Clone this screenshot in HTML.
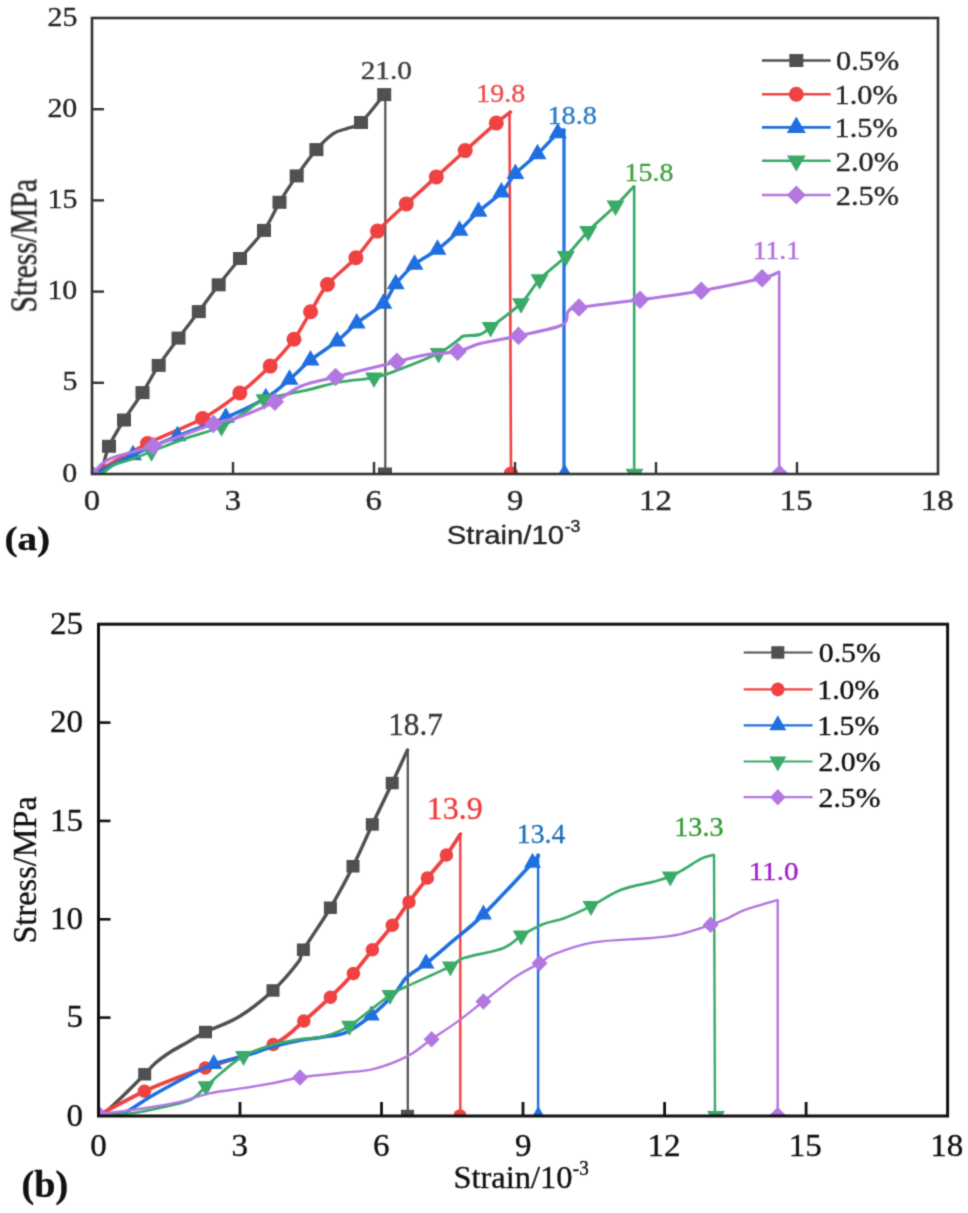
<!DOCTYPE html><html><head><meta charset="utf-8"><style>html,body{margin:0;padding:0;background:#fff;width:968px;height:1213px;overflow:hidden;}svg{display:block;}</style></head><body>
<svg width="968" height="1213" viewBox="0 0 968 1213">
<defs><filter id="soft" x="0" y="0" width="1" height="1" color-interpolation-filters="sRGB"><feConvolveMatrix order="3" kernelMatrix="0.02768 0.11101 0.02768 0.11101 0.44521 0.11101 0.02768 0.11101 0.02768" preserveAlpha="true"/></filter></defs>
<g filter="url(#soft)">
<rect width="968" height="1213" fill="#fff"/>
<defs><clipPath id="ca"><rect x="92" y="18" width="846" height="456"/></clipPath></defs>
<g clip-path="url(#ca)">
<path d="M100.0,474.0 C100.7,472.0 102.5,466.6 104.0,462.0 C105.5,457.4 105.7,453.3 109.0,446.3 C112.3,439.3 118.4,428.9 124.0,420.0 C129.6,411.1 136.7,401.7 142.5,392.6 C148.3,383.5 152.7,374.5 158.7,365.4 C164.7,356.3 171.8,347.1 178.5,338.1 C185.2,329.1 192.1,320.5 198.8,311.6 C205.5,302.7 211.8,293.7 218.7,284.8 C225.6,275.9 232.4,267.6 240.0,258.5 C247.6,249.4 257.4,239.8 264.0,230.4 C270.6,221.0 274.1,211.4 279.5,202.3 C284.9,193.2 290.6,184.7 296.7,175.9 C302.8,167.1 310.3,156.6 316.4,149.6 C322.4,142.6 327.9,137.3 333.0,133.8 C338.1,130.3 342.3,130.4 347.0,128.5 C351.7,126.6 354.8,128.2 361.0,122.5 C367.2,116.8 380.3,99.2 384.2,94.6" fill="none" stroke="#505050" stroke-width="3.3" stroke-linejoin="round" stroke-linecap="round" />
<polyline points="385.3,94.6 385.3,474.0" fill="none" stroke="#505050" stroke-width="2.2" stroke-linejoin="round" stroke-linecap="round" />
<rect x="102.0" y="439.8" width="14" height="13" fill="#505050"/>
<rect x="117.0" y="413.5" width="14" height="13" fill="#505050"/>
<rect x="135.5" y="386.1" width="14" height="13" fill="#505050"/>
<rect x="151.7" y="358.9" width="14" height="13" fill="#505050"/>
<rect x="171.5" y="331.6" width="14" height="13" fill="#505050"/>
<rect x="191.8" y="305.1" width="14" height="13" fill="#505050"/>
<rect x="211.7" y="278.3" width="14" height="13" fill="#505050"/>
<rect x="233.0" y="252.0" width="14" height="13" fill="#505050"/>
<rect x="257.0" y="223.9" width="14" height="13" fill="#505050"/>
<rect x="272.5" y="195.8" width="14" height="13" fill="#505050"/>
<rect x="289.7" y="169.4" width="14" height="13" fill="#505050"/>
<rect x="309.4" y="143.1" width="14" height="13" fill="#505050"/>
<rect x="354.0" y="116.0" width="14" height="13" fill="#505050"/>
<rect x="377.2" y="88.1" width="14" height="13" fill="#505050"/>
<rect x="378.0" y="467.5" width="14" height="13" fill="#505050"/>
<path d="M92.0,474.0 C101.2,468.9 129.1,452.8 147.5,443.5 C165.9,434.2 187.2,426.9 202.6,418.5 C218.0,410.1 228.5,401.7 239.8,393.0 C251.1,384.3 261.2,375.1 270.2,366.1 C279.2,357.1 287.3,348.2 294.0,339.2 C300.7,330.1 305.0,320.9 310.6,311.8 C316.2,302.7 319.9,293.5 327.5,284.5 C335.1,275.5 347.6,266.7 355.9,257.8 C364.2,248.9 369.1,240.1 377.5,231.1 C385.9,222.1 396.5,212.9 406.3,203.9 C416.1,194.9 426.5,185.8 436.3,176.9 C446.1,168.0 455.2,159.6 465.2,150.6 C475.2,141.6 488.8,129.5 496.3,123.1 C503.9,116.7 508.1,113.8 510.5,112.0" fill="none" stroke="#f04242" stroke-width="3.5" stroke-linejoin="round" stroke-linecap="round" />
<polyline points="509.5,112.0 511.0,474.0" fill="none" stroke="#f04242" stroke-width="2.6" stroke-linejoin="round" stroke-linecap="round" />
<ellipse cx="147.5" cy="443.5" rx="7.5" ry="7.5" fill="#f04242"/>
<ellipse cx="202.6" cy="418.5" rx="7.5" ry="7.5" fill="#f04242"/>
<ellipse cx="239.8" cy="393.0" rx="7.5" ry="7.5" fill="#f04242"/>
<ellipse cx="270.2" cy="366.1" rx="7.5" ry="7.5" fill="#f04242"/>
<ellipse cx="294.0" cy="339.2" rx="7.5" ry="7.5" fill="#f04242"/>
<ellipse cx="310.6" cy="311.8" rx="7.5" ry="7.5" fill="#f04242"/>
<ellipse cx="327.5" cy="284.5" rx="7.5" ry="7.5" fill="#f04242"/>
<ellipse cx="355.9" cy="257.8" rx="7.5" ry="7.5" fill="#f04242"/>
<ellipse cx="377.5" cy="231.1" rx="7.5" ry="7.5" fill="#f04242"/>
<ellipse cx="406.3" cy="203.9" rx="7.5" ry="7.5" fill="#f04242"/>
<ellipse cx="436.3" cy="176.9" rx="7.5" ry="7.5" fill="#f04242"/>
<ellipse cx="465.2" cy="150.6" rx="7.5" ry="7.5" fill="#f04242"/>
<ellipse cx="496.3" cy="123.1" rx="7.5" ry="7.5" fill="#f04242"/>
<ellipse cx="511.0" cy="474.0" rx="7.5" ry="7.5" fill="#f04242"/>
<path d="M92.0,474.0 C94.1,473.1 97.7,472.0 104.5,468.8 C111.3,465.6 120.8,460.5 133.0,455.0 C145.2,449.5 161.9,442.2 177.4,436.0 C192.9,429.8 211.1,423.8 225.8,417.5 C240.5,411.2 255.2,404.3 265.8,398.0 C276.4,391.7 282.1,385.8 289.5,379.5 C296.9,373.2 302.6,366.6 310.5,360.2 C318.4,353.8 329.4,347.4 337.1,341.2 C344.8,335.0 349.0,329.5 356.7,323.2 C364.4,316.9 376.9,310.1 383.4,303.6 C389.9,297.1 390.5,290.6 395.7,284.1 C400.9,277.6 407.5,270.3 414.5,264.5 C421.5,258.7 430.0,255.2 437.5,249.5 C445.0,243.8 452.7,236.8 459.5,230.5 C466.3,224.2 471.5,217.8 478.5,211.5 C485.5,205.2 495.2,198.7 501.4,192.4 C507.5,186.1 509.4,180.2 515.4,173.8 C521.4,167.4 530.4,160.8 537.5,154.0 C544.6,147.2 553.4,137.0 557.8,133.0 C562.2,129.0 563.0,130.5 564.0,130.0" fill="none" stroke="#1f6fe0" stroke-width="3.5" stroke-linejoin="round" stroke-linecap="round" />
<polyline points="564.0,130.0 564.0,474.0" fill="none" stroke="#1f6fe0" stroke-width="3.2" stroke-linejoin="round" stroke-linecap="round" />
<polygon points="133.0,444.7 142.0,460.2 124.0,460.2" fill="#1f6fe0"/>
<polygon points="177.4,425.7 186.4,441.2 168.4,441.2" fill="#1f6fe0"/>
<polygon points="225.8,407.2 234.8,422.7 216.8,422.7" fill="#1f6fe0"/>
<polygon points="265.8,387.7 274.8,403.2 256.8,403.2" fill="#1f6fe0"/>
<polygon points="289.5,369.2 298.5,384.7 280.5,384.7" fill="#1f6fe0"/>
<polygon points="310.5,349.9 319.5,365.4 301.5,365.4" fill="#1f6fe0"/>
<polygon points="337.1,330.9 346.1,346.4 328.1,346.4" fill="#1f6fe0"/>
<polygon points="356.7,312.9 365.7,328.4 347.7,328.4" fill="#1f6fe0"/>
<polygon points="383.4,293.3 392.4,308.8 374.4,308.8" fill="#1f6fe0"/>
<polygon points="395.7,273.8 404.7,289.3 386.7,289.3" fill="#1f6fe0"/>
<polygon points="414.5,254.2 423.5,269.7 405.5,269.7" fill="#1f6fe0"/>
<polygon points="437.5,239.2 446.5,254.7 428.5,254.7" fill="#1f6fe0"/>
<polygon points="459.5,220.2 468.5,235.7 450.5,235.7" fill="#1f6fe0"/>
<polygon points="478.5,201.2 487.5,216.7 469.5,216.7" fill="#1f6fe0"/>
<polygon points="501.4,182.1 510.4,197.6 492.4,197.6" fill="#1f6fe0"/>
<polygon points="515.4,163.5 524.4,179.0 506.4,179.0" fill="#1f6fe0"/>
<polygon points="537.5,143.7 546.5,159.2 528.5,159.2" fill="#1f6fe0"/>
<polygon points="557.8,122.7 566.8,138.2 548.8,138.2" fill="#1f6fe0"/>
<polygon points="564.5,463.7 573.5,479.2 555.5,479.2" fill="#1f6fe0"/>
<path d="M92.0,474.0 C93.6,473.9 97.9,475.0 101.5,473.5 C105.1,472.0 109.2,467.2 113.8,465.0 C118.4,462.8 123.0,462.2 129.3,460.0 C135.6,457.8 145.5,453.8 151.5,451.5 C157.5,449.2 159.4,448.3 165.5,446.0 C171.6,443.7 178.7,440.9 188.0,437.7 C197.3,434.4 212.0,430.8 221.5,426.5 C231.0,422.2 237.8,416.5 245.0,412.0 C252.2,407.5 254.6,403.1 264.5,399.5 C274.4,395.9 292.1,393.6 304.5,390.7 C316.9,387.8 327.6,384.3 339.2,382.1 C350.8,379.9 364.1,379.7 374.0,377.6 C383.9,375.5 387.9,373.8 398.7,369.7 C409.5,365.6 428.7,358.2 438.6,353.3 C448.5,348.4 454.0,342.9 458.2,340.0 C462.4,337.1 460.1,336.9 463.7,336.0 C467.3,335.1 475.5,335.9 480.0,334.5 C484.5,333.1 483.8,332.5 490.6,327.3 C497.4,322.1 512.8,311.4 521.0,303.4 C529.2,295.4 532.1,287.4 539.6,279.5 C547.1,271.6 557.8,264.4 565.9,256.3 C574.0,248.2 579.9,239.6 588.2,231.2 C596.5,222.8 607.9,213.2 615.5,205.8 C623.1,198.4 630.8,189.7 633.8,186.5" fill="none" stroke="#3aaa68" stroke-width="2.9" stroke-linejoin="round" stroke-linecap="round" />
<polyline points="634.2,186.5 634.2,474.0" fill="none" stroke="#3aaa68" stroke-width="2.6" stroke-linejoin="round" stroke-linecap="round" />
<polygon points="151.5,461.8 160.5,446.3 142.5,446.3" fill="#3aaa68"/>
<polygon points="221.5,436.8 230.5,421.3 212.5,421.3" fill="#3aaa68"/>
<polygon points="264.5,409.8 273.5,394.3 255.5,394.3" fill="#3aaa68"/>
<polygon points="374.0,387.9 383.0,372.4 365.0,372.4" fill="#3aaa68"/>
<polygon points="438.6,363.6 447.6,348.1 429.6,348.1" fill="#3aaa68"/>
<polygon points="490.6,337.6 499.6,322.1 481.6,322.1" fill="#3aaa68"/>
<polygon points="521.0,313.7 530.0,298.2 512.0,298.2" fill="#3aaa68"/>
<polygon points="539.6,289.8 548.6,274.3 530.6,274.3" fill="#3aaa68"/>
<polygon points="565.9,266.6 574.9,251.1 556.9,251.1" fill="#3aaa68"/>
<polygon points="588.2,241.5 597.2,226.0 579.2,226.0" fill="#3aaa68"/>
<polygon points="615.5,216.1 624.5,200.6 606.5,200.6" fill="#3aaa68"/>
<polygon points="634.5,484.3 643.5,468.8 625.5,468.8" fill="#3aaa68"/>
<path d="M92.0,474.0 C92.5,473.4 92.2,473.1 95.3,470.5 C98.4,467.9 101.1,462.6 110.7,458.5 C120.3,454.4 135.9,451.8 153.0,446.0 C170.1,440.2 198.9,428.9 213.4,424.0 C227.9,419.1 229.8,420.5 240.0,416.8 C250.2,413.1 264.5,407.0 274.8,401.8 C285.1,396.6 291.9,389.9 302.0,385.8 C312.1,381.7 325.3,379.7 335.6,377.0 C345.9,374.3 353.8,372.2 364.0,369.7 C374.2,367.2 386.6,364.3 396.9,361.8 C407.2,359.3 415.9,356.5 426.0,354.8 C436.1,353.1 448.6,353.5 457.6,351.6 C466.6,349.7 469.9,346.2 480.0,343.6 C490.1,341.0 504.8,339.0 518.5,335.9 C532.2,332.8 553.8,329.0 562.0,325.0 C570.2,321.0 565.2,314.9 568.0,312.0 C570.8,309.1 567.0,309.5 579.0,307.5 C591.0,305.5 619.6,302.6 640.0,299.8 C660.4,297.0 680.9,294.3 701.3,290.7 C721.6,287.1 749.2,281.4 762.1,278.3 C775.0,275.2 775.9,273.1 778.7,272.1" fill="none" stroke="#b277e0" stroke-width="3.1" stroke-linejoin="round" stroke-linecap="round" />
<polyline points="779.2,272.1 779.2,474.0" fill="none" stroke="#b277e0" stroke-width="2.6" stroke-linejoin="round" stroke-linecap="round" />
<polygon points="92.0,464.8 101.2,474.0 92.0,483.2 82.8,474.0" fill="#b277e0"/>
<polygon points="153.0,436.8 162.2,446.0 153.0,455.2 143.8,446.0" fill="#b277e0"/>
<polygon points="213.4,414.8 222.7,424.0 213.4,433.2 204.2,424.0" fill="#b277e0"/>
<polygon points="274.8,392.6 284.1,401.8 274.8,411.1 265.6,401.8" fill="#b277e0"/>
<polygon points="335.6,367.8 344.9,377.0 335.6,386.2 326.4,377.0" fill="#b277e0"/>
<polygon points="396.9,352.6 406.1,361.8 396.9,371.1 387.6,361.8" fill="#b277e0"/>
<polygon points="457.6,342.4 466.9,351.6 457.6,360.9 448.4,351.6" fill="#b277e0"/>
<polygon points="518.5,326.6 527.8,335.9 518.5,345.1 509.2,335.9" fill="#b277e0"/>
<polygon points="579.0,298.2 588.2,307.5 579.0,316.8 569.8,307.5" fill="#b277e0"/>
<polygon points="640.0,290.6 649.2,299.8 640.0,309.1 630.8,299.8" fill="#b277e0"/>
<polygon points="701.3,281.4 710.5,290.7 701.3,299.9 692.0,290.7" fill="#b277e0"/>
<polygon points="762.1,269.1 771.4,278.3 762.1,287.6 752.9,278.3" fill="#b277e0"/>
<polygon points="779.5,464.8 788.8,474.0 779.5,483.2 770.2,474.0" fill="#b277e0"/>
</g>
<rect x="92" y="18" width="846" height="456" fill="none" stroke="#333" stroke-width="2.6"/>
<line x1="92" y1="382.8" x2="104" y2="382.8" stroke="#333" stroke-width="2.4"/>
<line x1="92" y1="291.6" x2="104" y2="291.6" stroke="#333" stroke-width="2.4"/>
<line x1="92" y1="200.4" x2="104" y2="200.4" stroke="#333" stroke-width="2.4"/>
<line x1="92" y1="109.2" x2="104" y2="109.2" stroke="#333" stroke-width="2.4"/>
<line x1="233.0" y1="474" x2="233.0" y2="462" stroke="#333" stroke-width="2.4"/>
<line x1="374.0" y1="474" x2="374.0" y2="462" stroke="#333" stroke-width="2.4"/>
<line x1="515.0" y1="474" x2="515.0" y2="462" stroke="#333" stroke-width="2.4"/>
<line x1="656.0" y1="474" x2="656.0" y2="462" stroke="#333" stroke-width="2.4"/>
<line x1="797.0" y1="474" x2="797.0" y2="462" stroke="#333" stroke-width="2.4"/>
<text transform="translate(62.35,481.68) scale(1.1300,1)" font-family='"Liberation Serif", serif' font-weight="normal" font-size="26.50" fill="#262626" stroke="#262626" stroke-width="0.35">0</text>
<text transform="translate(62.43,390.35) scale(1.1300,1)" font-family='"Liberation Serif", serif' font-weight="normal" font-size="26.50" fill="#262626" stroke="#262626" stroke-width="0.35">5</text>
<text transform="translate(47.38,299.28) scale(1.1300,1)" font-family='"Liberation Serif", serif' font-weight="normal" font-size="26.50" fill="#262626" stroke="#262626" stroke-width="0.35">10</text>
<text transform="translate(47.45,208.01) scale(1.1300,1)" font-family='"Liberation Serif", serif' font-weight="normal" font-size="26.50" fill="#262626" stroke="#262626" stroke-width="0.35">15</text>
<text transform="translate(47.38,116.88) scale(1.1300,1)" font-family='"Liberation Serif", serif' font-weight="normal" font-size="26.50" fill="#262626" stroke="#262626" stroke-width="0.35">20</text>
<text transform="translate(47.45,25.65) scale(1.1300,1)" font-family='"Liberation Serif", serif' font-weight="normal" font-size="26.50" fill="#262626" stroke="#262626" stroke-width="0.35">25</text>
<text transform="translate(83.80,509.90) scale(1.1200,1)" font-family='"Liberation Serif", serif' font-weight="normal" font-size="29.30" fill="#262626" stroke="#262626" stroke-width="0.35">0</text>
<text transform="translate(224.67,509.86) scale(1.1200,1)" font-family='"Liberation Serif", serif' font-weight="normal" font-size="29.30" fill="#262626" stroke="#262626" stroke-width="0.35">3</text>
<text transform="translate(365.59,509.86) scale(1.1200,1)" font-family='"Liberation Serif", serif' font-weight="normal" font-size="29.30" fill="#262626" stroke="#262626" stroke-width="0.35">6</text>
<text transform="translate(506.92,509.86) scale(1.1200,1)" font-family='"Liberation Serif", serif' font-weight="normal" font-size="29.30" fill="#262626" stroke="#262626" stroke-width="0.35">9</text>
<text transform="translate(639.06,510.01) scale(1.1200,1)" font-family='"Liberation Serif", serif' font-weight="normal" font-size="29.30" fill="#262626" stroke="#262626" stroke-width="0.35">12</text>
<text transform="translate(779.81,509.82) scale(1.1200,1)" font-family='"Liberation Serif", serif' font-weight="normal" font-size="29.30" fill="#262626" stroke="#262626" stroke-width="0.35">15</text>
<text transform="translate(920.77,509.90) scale(1.1200,1)" font-family='"Liberation Serif", serif' font-weight="normal" font-size="29.30" fill="#262626" stroke="#262626" stroke-width="0.35">18</text>
<text transform="translate(36.63,312.48) rotate(-90) scale(1,1.2771)" font-family='"Liberation Serif", serif' font-size="29.34" fill="#262626" stroke="#262626" stroke-width="0.35">Stress/MPa</text>
<text transform="translate(446.78,544.05) scale(1.1583,1)" font-family='"Liberation Sans", sans-serif' font-weight="normal" font-size="25.31" fill="#262626" stroke="#262626" stroke-width="0.35" >Strain/10</text>
<text transform="translate(564.70,532.43) scale(1.0379,1)" font-family='"Liberation Sans", sans-serif' font-weight="normal" font-size="17.10" fill="#262626" stroke="#262626" stroke-width="0.35" >-3</text>
<text transform="translate(4.43,550.48) scale(1.1875,1)" font-family='"Liberation Serif", serif' font-weight="bold" font-size="33.06" fill="#111" stroke="#111" stroke-width="0.35" >(a)</text>
<text transform="translate(360.68,78.91) scale(1.1330,1)" font-family='"Liberation Serif", serif' font-weight="normal" font-size="25.88" fill="#3f3f3f" stroke="#3f3f3f" stroke-width="0.35" >21.0</text>
<text transform="translate(476.35,102.13) scale(1.1401,1)" font-family='"Liberation Serif", serif' font-weight="normal" font-size="24.56" fill="#f04a4a" stroke="#f04a4a" stroke-width="0.35" >19.8</text>
<text transform="translate(547.42,123.92) scale(1.1348,1)" font-family='"Liberation Serif", serif' font-weight="normal" font-size="25.00" fill="#2a7ec8" stroke="#2a7ec8" stroke-width="0.35" >18.8</text>
<text transform="translate(624.55,181.11) scale(1.0818,1)" font-family='"Liberation Serif", serif' font-weight="normal" font-size="25.88" fill="#45a040" stroke="#45a040" stroke-width="0.35" >15.8</text>
<text transform="translate(752.67,258.63) scale(1.1345,1)" font-family='"Liberation Serif", serif' font-weight="normal" font-size="24.44" fill="#b070e0" stroke="#b070e0" stroke-width="0.35" >11.1</text>
<line x1="762" y1="60.5" x2="830.6" y2="60.5" stroke="#505050" stroke-width="2.6"/>
<rect x="789.3" y="54.0" width="14" height="13" fill="#505050"/>
<text transform="translate(836.06,70.37) scale(1.1100,1)" font-family='"Liberation Serif", serif' font-weight="normal" font-size="27.30" fill="#262626" stroke="#262626" stroke-width="0.35">0.5%</text>
<line x1="762" y1="94.3" x2="830.6" y2="94.3" stroke="#f04242" stroke-width="2.6"/>
<ellipse cx="796.3" cy="94.3" rx="7.5" ry="7.5" fill="#f04242"/>
<text transform="translate(834.55,104.17) scale(1.1100,1)" font-family='"Liberation Serif", serif' font-weight="normal" font-size="27.30" fill="#262626" stroke="#262626" stroke-width="0.35">1.0%</text>
<line x1="762" y1="127.4" x2="830.6" y2="127.4" stroke="#1f6fe0" stroke-width="2.6"/>
<polygon points="796.3,116.4 805.8,132.9 786.8,132.9" fill="#1f6fe0"/>
<text transform="translate(834.55,137.27) scale(1.1100,1)" font-family='"Liberation Serif", serif' font-weight="normal" font-size="27.30" fill="#262626" stroke="#262626" stroke-width="0.35">1.5%</text>
<line x1="762" y1="160.8" x2="830.6" y2="160.8" stroke="#3aaa68" stroke-width="2.6"/>
<polygon points="796.3,171.5 805.8,155.5 786.8,155.5" fill="#3aaa68"/>
<text transform="translate(835.84,170.67) scale(1.1100,1)" font-family='"Liberation Serif", serif' font-weight="normal" font-size="27.30" fill="#262626" stroke="#262626" stroke-width="0.35">2.0%</text>
<line x1="762" y1="195" x2="830.6" y2="195" stroke="#b277e0" stroke-width="2.6"/>
<polygon points="796.3,185.5 805.8,195.0 796.3,204.5 786.8,195.0" fill="#b277e0"/>
<text transform="translate(835.84,204.87) scale(1.1100,1)" font-family='"Liberation Serif", serif' font-weight="normal" font-size="27.30" fill="#262626" stroke="#262626" stroke-width="0.35">2.5%</text>
<defs><clipPath id="cb"><rect x="98.5" y="624.2" width="849.1" height="491.79999999999995"/></clipPath></defs>
<g clip-path="url(#cb)">
<path d="M101.5,1115.0 C102.3,1114.4 102.3,1115.3 106.4,1111.6 C110.5,1107.9 119.6,1099.2 126.0,1093.0 C132.4,1086.8 139.7,1079.4 144.7,1074.3 C149.7,1069.2 151.4,1066.4 156.0,1062.5 C160.6,1058.6 166.7,1054.4 172.0,1051.0 C177.3,1047.6 182.4,1045.2 188.0,1042.0 C193.6,1038.8 196.9,1036.3 205.5,1032.1 C214.1,1027.8 228.2,1023.4 239.4,1016.5 C250.7,1009.6 263.2,999.6 273.0,990.5 C282.8,981.4 293.2,968.8 298.3,962.0 C303.4,955.2 298.0,958.8 303.4,949.8 C308.8,940.8 322.1,921.7 330.4,907.8 C338.7,893.9 346.0,880.1 353.0,866.2 C360.0,852.3 365.8,838.4 372.3,824.5 C378.8,810.6 386.3,795.4 392.2,783.0 C398.1,770.6 404.9,755.5 407.5,750.0" fill="none" stroke="#505050" stroke-width="3.5" stroke-linejoin="round" stroke-linecap="round" />
<polyline points="407.8,750.0 407.8,1116.0" fill="none" stroke="#505050" stroke-width="2.2" stroke-linejoin="round" stroke-linecap="round" />
<rect x="138.2" y="1068.0" width="13" height="12.5" fill="#505050"/>
<rect x="199.0" y="1025.8" width="13" height="12.5" fill="#505050"/>
<rect x="266.5" y="984.2" width="13" height="12.5" fill="#505050"/>
<rect x="296.9" y="943.5" width="13" height="12.5" fill="#505050"/>
<rect x="323.9" y="901.5" width="13" height="12.5" fill="#505050"/>
<rect x="346.5" y="860.0" width="13" height="12.5" fill="#505050"/>
<rect x="365.8" y="818.2" width="13" height="12.5" fill="#505050"/>
<rect x="385.7" y="776.8" width="13" height="12.5" fill="#505050"/>
<rect x="401.0" y="1109.8" width="13" height="12.5" fill="#505050"/>
<path d="M101.4,1113.5 C108.6,1109.8 132.2,1097.0 144.4,1091.2 C156.6,1085.4 164.4,1082.7 174.6,1078.8 C184.8,1074.9 188.9,1073.7 205.3,1068.0 C221.7,1062.3 256.8,1052.2 273.2,1044.4 C289.6,1036.6 294.3,1028.9 303.8,1021.0 C313.3,1013.1 322.1,1005.1 330.4,997.2 C338.7,989.3 346.4,981.4 353.4,973.5 C360.4,965.6 365.9,957.8 372.4,949.8 C378.9,941.8 386.2,933.3 392.3,925.3 C398.4,917.3 403.1,909.9 409.0,902.0 C414.9,894.1 421.2,885.9 427.4,878.1 C433.6,870.3 440.9,862.4 446.4,855.1 C451.9,847.8 458.0,837.7 460.3,834.2" fill="none" stroke="#f04242" stroke-width="3.8" stroke-linejoin="round" stroke-linecap="round" />
<polyline points="460.3,834.2 460.3,1116.0" fill="none" stroke="#f04242" stroke-width="2.4" stroke-linejoin="round" stroke-linecap="round" />
<ellipse cx="144.4" cy="1091.2" rx="6.75" ry="6.75" fill="#f04242"/>
<ellipse cx="205.3" cy="1068.0" rx="6.75" ry="6.75" fill="#f04242"/>
<ellipse cx="273.2" cy="1044.4" rx="6.75" ry="6.75" fill="#f04242"/>
<ellipse cx="303.8" cy="1021.0" rx="6.75" ry="6.75" fill="#f04242"/>
<ellipse cx="330.4" cy="997.2" rx="6.75" ry="6.75" fill="#f04242"/>
<ellipse cx="353.4" cy="973.5" rx="6.75" ry="6.75" fill="#f04242"/>
<ellipse cx="372.4" cy="949.8" rx="6.75" ry="6.75" fill="#f04242"/>
<ellipse cx="392.3" cy="925.3" rx="6.75" ry="6.75" fill="#f04242"/>
<ellipse cx="409.0" cy="902.0" rx="6.75" ry="6.75" fill="#f04242"/>
<ellipse cx="427.4" cy="878.1" rx="6.75" ry="6.75" fill="#f04242"/>
<ellipse cx="446.4" cy="855.1" rx="6.75" ry="6.75" fill="#f04242"/>
<ellipse cx="460.0" cy="1116.0" rx="6.75" ry="6.75" fill="#f04242"/>
<path d="M99.0,1115.5 C102.5,1115.1 115.0,1113.8 120.0,1113.0 C125.0,1112.2 124.0,1113.1 129.0,1110.4 C134.0,1107.7 142.3,1101.6 150.0,1097.0 C157.7,1092.4 166.7,1087.5 175.0,1083.0 C183.3,1078.5 193.5,1073.2 200.0,1070.0 C206.5,1066.8 206.6,1066.2 213.8,1063.9 C221.0,1061.6 233.3,1059.2 243.2,1056.4 C253.0,1053.6 263.5,1049.5 272.9,1046.8 C282.3,1044.1 290.9,1042.1 299.4,1040.5 C307.8,1038.9 315.8,1038.4 323.6,1037.0 C331.4,1035.6 338.2,1035.9 346.1,1032.3 C354.1,1028.7 363.1,1022.0 371.3,1015.5 C379.5,1009.0 389.3,999.3 395.1,993.0 C400.9,986.7 401.2,982.5 406.3,977.6 C411.4,972.7 418.3,969.7 426.0,963.6 C433.7,957.5 443.0,949.4 452.6,941.2 C462.2,933.0 470.1,927.7 483.4,914.6 C496.7,901.5 523.4,872.6 532.5,862.7 C541.6,852.8 537.2,856.4 538.1,855.1" fill="none" stroke="#1f6fe0" stroke-width="3.6" stroke-linejoin="round" stroke-linecap="round" />
<polyline points="538.1,855.1 538.1,1116.0" fill="none" stroke="#1f6fe0" stroke-width="2.4" stroke-linejoin="round" stroke-linecap="round" />
<polygon points="213.8,1053.9 222.3,1068.9 205.3,1068.9" fill="#1f6fe0"/>
<polygon points="371.3,1005.5 379.8,1020.5 362.8,1020.5" fill="#1f6fe0"/>
<polygon points="426.0,953.6 434.5,968.6 417.5,968.6" fill="#1f6fe0"/>
<polygon points="483.4,904.6 491.9,919.6 474.9,919.6" fill="#1f6fe0"/>
<polygon points="532.5,852.7 541.0,867.7 524.0,867.7" fill="#1f6fe0"/>
<polygon points="538.3,1106.0 546.8,1121.0 529.8,1121.0" fill="#1f6fe0"/>
<path d="M99.0,1115.5 C104.2,1115.2 120.1,1114.7 130.0,1113.5 C139.9,1112.3 148.4,1110.5 158.5,1108.2 C168.6,1105.9 182.4,1103.5 190.3,1099.8 C198.2,1096.1 200.7,1090.9 206.0,1086.3 C211.3,1081.7 215.8,1077.2 222.0,1072.2 C228.2,1067.2 235.0,1060.6 243.5,1056.0 C252.0,1051.4 263.6,1047.5 272.9,1044.7 C282.2,1041.9 290.9,1040.8 299.4,1039.4 C307.8,1038.0 315.2,1038.8 323.6,1036.5 C332.0,1034.2 338.4,1032.7 349.5,1025.8 C360.6,1018.9 380.3,1001.6 390.0,995.0 C399.7,988.4 397.6,990.8 407.7,986.0 C417.8,981.2 441.0,971.1 450.4,966.4 C459.8,961.7 455.0,961.0 463.8,958.0 C472.6,955.0 493.4,951.9 503.0,948.2 C512.6,944.5 514.8,939.6 521.3,935.6 C527.8,931.6 535.1,927.3 542.3,924.4 C549.4,921.5 556.1,921.2 564.2,918.2 C572.3,915.2 581.6,910.8 591.0,906.1 C600.4,901.4 610.3,894.0 620.6,890.0 C630.9,886.0 644.5,884.1 652.8,881.9 C661.1,879.7 664.9,878.8 670.3,876.6 C675.7,874.4 679.9,871.5 685.0,868.5 C690.1,865.5 696.5,860.9 701.2,858.6 C705.9,856.4 711.3,855.6 713.3,855.0" fill="none" stroke="#3aaa68" stroke-width="2.7" stroke-linejoin="round" stroke-linecap="round" />
<polyline points="714.0,855.0 715.0,1116.0" fill="none" stroke="#3aaa68" stroke-width="2.4" stroke-linejoin="round" stroke-linecap="round" />
<polygon points="206.0,1096.3 214.5,1081.3 197.5,1081.3" fill="#3aaa68"/>
<polygon points="243.5,1066.0 252.0,1051.0 235.0,1051.0" fill="#3aaa68"/>
<polygon points="349.5,1035.8 358.0,1020.8 341.0,1020.8" fill="#3aaa68"/>
<polygon points="390.0,1005.0 398.5,990.0 381.5,990.0" fill="#3aaa68"/>
<polygon points="450.4,976.4 458.9,961.4 441.9,961.4" fill="#3aaa68"/>
<polygon points="521.3,945.6 529.8,930.6 512.8,930.6" fill="#3aaa68"/>
<polygon points="591.0,916.1 599.5,901.1 582.5,901.1" fill="#3aaa68"/>
<polygon points="670.3,886.6 678.8,871.6 661.8,871.6" fill="#3aaa68"/>
<polygon points="716.0,1126.0 725.0,1111.0 707.0,1111.0" fill="#3aaa68"/>
<path d="M99.0,1114.0 C105.4,1113.2 124.0,1111.3 137.4,1109.3 C150.8,1107.3 167.7,1104.6 179.7,1101.9 C191.7,1099.2 198.8,1095.7 209.4,1093.4 C220.0,1091.1 232.3,1089.9 243.2,1088.1 C254.1,1086.3 265.5,1084.6 275.0,1082.8 C284.5,1081.0 289.2,1079.1 300.0,1077.5 C310.8,1075.9 327.6,1074.5 340.0,1073.0 C352.4,1071.5 362.8,1071.6 374.1,1068.8 C385.4,1066.0 398.1,1061.0 407.7,1056.1 C417.3,1051.2 423.2,1045.1 431.6,1039.3 C440.0,1033.5 449.6,1027.4 458.2,1021.1 C466.8,1014.8 474.0,1008.8 483.4,1001.5 C492.8,994.2 504.9,984.0 514.3,977.6 C523.6,971.2 533.0,967.1 539.5,963.2 C546.0,959.3 544.4,957.9 553.4,954.4 C562.4,950.9 578.0,945.1 593.7,942.4 C609.4,939.7 633.1,939.6 647.4,938.3 C661.7,936.9 669.2,936.5 679.7,934.3 C690.2,932.1 702.6,927.6 710.6,924.9 C718.6,922.2 722.4,920.7 728.0,918.2 C733.6,915.7 736.0,913.1 744.1,910.1 C752.2,907.1 771.3,901.9 776.7,900.3" fill="none" stroke="#b277e0" stroke-width="2.4" stroke-linejoin="round" stroke-linecap="round" />
<polyline points="777.7,900.3 777.7,1116.0" fill="none" stroke="#b277e0" stroke-width="2.4" stroke-linejoin="round" stroke-linecap="round" />
<polygon points="99.0,1105.8 107.0,1114.0 99.0,1122.2 91.0,1114.0" fill="#b277e0"/>
<polygon points="300.0,1069.2 308.0,1077.5 300.0,1085.8 292.0,1077.5" fill="#b277e0"/>
<polygon points="431.6,1031.0 439.6,1039.3 431.6,1047.5 423.6,1039.3" fill="#b277e0"/>
<polygon points="483.4,993.2 491.4,1001.5 483.4,1009.8 475.4,1001.5" fill="#b277e0"/>
<polygon points="539.5,955.0 547.5,963.2 539.5,971.5 531.5,963.2" fill="#b277e0"/>
<polygon points="710.6,916.6 718.6,924.9 710.6,933.1 702.6,924.9" fill="#b277e0"/>
<polygon points="777.7,1107.0 786.7,1116.0 777.7,1125.0 768.7,1116.0" fill="#b277e0"/>
</g>
<rect x="98.5" y="624.2" width="849.1" height="491.79999999999995" fill="none" stroke="#111" stroke-width="3"/>
<line x1="98.5" y1="1017.6" x2="110.5" y2="1017.6" stroke="#111" stroke-width="2.6"/>
<line x1="98.5" y1="919.3" x2="110.5" y2="919.3" stroke="#111" stroke-width="2.6"/>
<line x1="98.5" y1="820.9" x2="110.5" y2="820.9" stroke="#111" stroke-width="2.6"/>
<line x1="98.5" y1="722.6" x2="110.5" y2="722.6" stroke="#111" stroke-width="2.6"/>
<line x1="240.0" y1="1116" x2="240.0" y2="1102" stroke="#111" stroke-width="2.8"/>
<line x1="381.5" y1="1116" x2="381.5" y2="1102" stroke="#111" stroke-width="2.8"/>
<line x1="523.0" y1="1116" x2="523.0" y2="1102" stroke="#111" stroke-width="2.8"/>
<line x1="664.6" y1="1116" x2="664.6" y2="1102" stroke="#111" stroke-width="2.8"/>
<line x1="806.1" y1="1116" x2="806.1" y2="1102" stroke="#111" stroke-width="2.8"/>
<text transform="translate(66.50,1125.82) scale(1.0500,1)" font-family='"Liberation Serif", serif' font-weight="normal" font-size="31.50" fill="#111" stroke="#111" stroke-width="0.35">0</text>
<text transform="translate(66.59,1027.30) scale(1.0500,1)" font-family='"Liberation Serif", serif' font-weight="normal" font-size="31.50" fill="#111" stroke="#111" stroke-width="0.35">5</text>
<text transform="translate(49.97,929.10) scale(1.0500,1)" font-family='"Liberation Serif", serif' font-weight="normal" font-size="31.50" fill="#111" stroke="#111" stroke-width="0.35">10</text>
<text transform="translate(50.05,830.66) scale(1.0500,1)" font-family='"Liberation Serif", serif' font-weight="normal" font-size="31.50" fill="#111" stroke="#111" stroke-width="0.35">15</text>
<text transform="translate(49.97,732.38) scale(1.0500,1)" font-family='"Liberation Serif", serif' font-weight="normal" font-size="31.50" fill="#111" stroke="#111" stroke-width="0.35">20</text>
<text transform="translate(50.05,633.98) scale(1.0500,1)" font-family='"Liberation Serif", serif' font-weight="normal" font-size="31.50" fill="#111" stroke="#111" stroke-width="0.35">25</text>
<text transform="translate(90.23,1155.82) scale(1.0500,1)" font-family='"Liberation Serif", serif' font-weight="normal" font-size="31.50" fill="#111" stroke="#111" stroke-width="0.35">0</text>
<text transform="translate(231.62,1155.78) scale(1.0500,1)" font-family='"Liberation Serif", serif' font-weight="normal" font-size="31.50" fill="#111" stroke="#111" stroke-width="0.35">3</text>
<text transform="translate(373.06,1155.78) scale(1.0500,1)" font-family='"Liberation Serif", serif' font-weight="normal" font-size="31.50" fill="#111" stroke="#111" stroke-width="0.35">6</text>
<text transform="translate(514.91,1155.78) scale(1.0500,1)" font-family='"Liberation Serif", serif' font-weight="normal" font-size="31.50" fill="#111" stroke="#111" stroke-width="0.35">9</text>
<text transform="translate(647.49,1155.93) scale(1.0500,1)" font-family='"Liberation Serif", serif' font-weight="normal" font-size="31.50" fill="#111" stroke="#111" stroke-width="0.35">12</text>
<text transform="translate(788.76,1155.74) scale(1.0500,1)" font-family='"Liberation Serif", serif' font-weight="normal" font-size="31.50" fill="#111" stroke="#111" stroke-width="0.35">15</text>
<text transform="translate(930.24,1155.82) scale(1.0500,1)" font-family='"Liberation Serif", serif' font-weight="normal" font-size="31.50" fill="#111" stroke="#111" stroke-width="0.35">18</text>
<text transform="translate(36.27,943.38) rotate(-90) scale(1,1.0138)" font-family='"Liberation Serif", serif' font-size="32.27" fill="#111" stroke="#111" stroke-width="0.35">Stress/MPa</text>
<text transform="translate(453.41,1187.79) scale(1.0399,1)" font-family='"Liberation Serif", serif' font-weight="normal" font-size="31.26" fill="#111" stroke="#111" stroke-width="0.35" >Strain/10</text>
<text transform="translate(572.78,1175.10) scale(0.9501,1)" font-family='"Liberation Serif", serif' font-weight="normal" font-size="20.07" fill="#111" stroke="#111" stroke-width="0.35" >-3</text>
<text transform="translate(21.58,1196.54) scale(1.0206,1)" font-family='"Liberation Serif", serif' font-weight="bold" font-size="37.47" fill="#111" stroke="#111" stroke-width="0.35" >(b)</text>
<text transform="translate(388.17,735.14) scale(1.0164,1)" font-family='"Liberation Serif", serif' font-weight="normal" font-size="30.74" fill="#3a3a3a" stroke="#3a3a3a" stroke-width="0.35" >18.7</text>
<text transform="translate(426.80,818.83) scale(1.0127,1)" font-family='"Liberation Serif", serif' font-weight="normal" font-size="31.59" fill="#f03c3c" stroke="#f03c3c" stroke-width="0.35" >13.9</text>
<text transform="translate(516.87,842.78) scale(0.9996,1)" font-family='"Liberation Serif", serif' font-weight="normal" font-size="27.75" fill="#1e72b8" stroke="#1e72b8" stroke-width="0.35" >13.4</text>
<text transform="translate(674.35,836.19) scale(1.0326,1)" font-family='"Liberation Serif", serif' font-weight="normal" font-size="27.16" fill="#2f9a2f" stroke="#2f9a2f" stroke-width="0.35" >13.3</text>
<text transform="translate(748.65,880.41) scale(1.1244,1)" font-family='"Liberation Serif", serif' font-weight="normal" font-size="25.88" fill="#a020c8" stroke="#a020c8" stroke-width="0.35" >11.0</text>
<line x1="743.7" y1="652.5" x2="812.5" y2="652.5" stroke="#505050" stroke-width="2.2"/>
<rect x="771.3" y="646.2" width="13" height="12.5" fill="#505050"/>
<text transform="translate(818.79,662.24) scale(1.0800,1)" font-family='"Liberation Serif", serif' font-weight="normal" font-size="27.50" fill="#111" stroke="#111" stroke-width="0.35">0.5%</text>
<line x1="743.7" y1="689.4" x2="812.5" y2="689.4" stroke="#f04242" stroke-width="2.2"/>
<ellipse cx="777.8" cy="689.4" rx="6.75" ry="7.0" fill="#f04242"/>
<text transform="translate(817.30,699.14) scale(1.0800,1)" font-family='"Liberation Serif", serif' font-weight="normal" font-size="27.50" fill="#111" stroke="#111" stroke-width="0.35">1.0%</text>
<line x1="743.7" y1="725.3" x2="812.5" y2="725.3" stroke="#1f6fe0" stroke-width="2.2"/>
<polygon points="777.8,715.3 786.3,730.3 769.3,730.3" fill="#1f6fe0"/>
<text transform="translate(817.30,735.04) scale(1.0800,1)" font-family='"Liberation Serif", serif' font-weight="normal" font-size="27.50" fill="#111" stroke="#111" stroke-width="0.35">1.5%</text>
<line x1="743.7" y1="761.5" x2="812.5" y2="761.5" stroke="#3aaa68" stroke-width="2.2"/>
<polygon points="777.8,771.5 786.3,756.5 769.3,756.5" fill="#3aaa68"/>
<text transform="translate(818.56,771.24) scale(1.0800,1)" font-family='"Liberation Serif", serif' font-weight="normal" font-size="27.50" fill="#111" stroke="#111" stroke-width="0.35">2.0%</text>
<line x1="743.7" y1="797.2" x2="812.5" y2="797.2" stroke="#b277e0" stroke-width="2.2"/>
<polygon points="777.8,789.0 785.5,797.2 777.8,805.5 770.0,797.2" fill="#b277e0"/>
<text transform="translate(818.56,806.94) scale(1.0800,1)" font-family='"Liberation Serif", serif' font-weight="normal" font-size="27.50" fill="#111" stroke="#111" stroke-width="0.35">2.5%</text>
</g>
</svg></body></html>
